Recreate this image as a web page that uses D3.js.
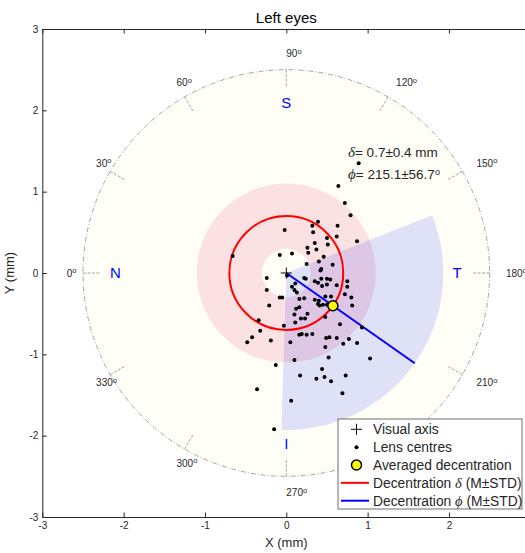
<!DOCTYPE html>
<html>
<head>
<meta charset="utf-8">
<script src="https://d3js.org/d3.v7.min.js"></script>
<style>
  body { margin: 0; background: #fff; }
  text { font-family: "Liberation Sans", Arial, sans-serif; fill: #262626; }
</style>
</head>
<body>
<div id="chart"></div>
<script>
// lens centres (mm)
var lensX = [0.89,0.64,0.72,0.79,0.39,0.32,0.63,-0.02,0.33,0.62,
  0.50,0.87,0.35,0.51,0.26,0.37,0.27,0.07,-0.08,-0.66,
  0.46,0.40,0.25,0.57,0.43,0.42,0.01,-0.24,0.22,0.24,
  0.43,0.50,0.54,0.35,0.75,0.11,0.39,0.07,0.44,0.50,
  0.62,0.75,-0.24,0.10,0.13,0.72,0.22,0.48,0.55,-0.08,
  -0.05,0.16,0.35,0.40,0.80,0.39,0.45,0.50,-0.21,0.16,
  0.12,0.41,0.81,0.10,0.26,0.18,0.23,0.48,-0.34,0.11,
  -0.03,0.66,0.93,-0.32,0.16,0.19,0.25,0.32,-0.42,0.49,
  0.53,0.62,0.77,-0.48,-0.19,0.05,0.70,0.87,0.48,1.03,
  0.52,0.10,-0.13,0.44,0.73,0.17,0.37,0.47,0.55,-0.36,
  0.69,0.06,-0.15];
var lensY = [1.35,1.07,0.86,0.71,0.63,0.58,0.58,0.53,0.50,0.45,
  0.43,0.39,0.37,0.35,0.31,0.29,0.25,0.24,0.22,0.21,
  0.20,0.14,0.11,0.10,0.05,0.03,-0.03,-0.06,-0.06,-0.07,
  -0.07,-0.07,-0.08,-0.10,-0.10,-0.13,-0.12,-0.17,-0.16,-0.14,
  -0.15,-0.17,-0.21,-0.21,-0.24,-0.26,-0.31,-0.29,-0.29,-0.30,
  -0.30,-0.32,-0.33,-0.34,-0.30,-0.38,-0.39,-0.39,-0.40,-0.42,
  -0.44,-0.40,-0.40,-0.51,-0.50,-0.56,-0.56,-0.54,-0.58,-0.61,
  -0.65,-0.63,-0.67,-0.71,-0.76,-0.75,-0.76,-0.75,-0.79,-0.80,
  -0.79,-0.80,-0.81,-0.85,-0.83,-0.85,-0.87,-0.86,-0.91,-1.05,
  -1.04,-1.07,-1.13,-1.18,-1.26,-1.26,-1.30,-1.28,-1.33,-1.43,
  -1.48,-1.57,-1.92];

var deltaStats = [0.7, 0.4];    // mean, std (mm)
var phiStats = [215.1, 56.7];   // mean, std (deg)
var phiLength = 1.93;           // length of the phi line / sector (mm)
var fieldRadius = 2.5;          // outer dash-dot circle (mm)
var angleTicks = [0, 30, 60, 90, 120, 150, 180, 210, 240, 270, 300, 330];
var axisTicks = [-3, -2, -1, 0, 1, 2, 3];
var axisTickLabels = ["-3", "-2", "-1", "0", "1", "2", "3"];
var sideLabels = ["N", "S", "T", "I"];
var sideAngles = [0, 90, 180, 270];

var width = 525, height = 553;
var plotLeft = 42.3, plotTop = 29, plotSize = 488;

var svg = d3.select("#chart").append("svg")
  .attr("width", width)
  .attr("height", height);

var x = d3.scaleLinear().domain([-3, 3]).range([plotLeft, plotLeft + plotSize]);
var y = d3.scaleLinear().domain([-3, 3]).range([plotTop + plotSize, plotTop]);
var k = x(1) - x(0); // px per mm

// polar helpers: angle 0 at nasal (left), going clockwise over the top
function px(r, deg) { return x(-r * Math.cos(deg * Math.PI / 180)); }
function py(r, deg) { return y(r * Math.sin(deg * Math.PI / 180)); }
function arcAngle(deg) { return (deg - 90) * Math.PI / 180; }

var cx = x(0), cy = y(0);
var g = svg.append("g");

// field background
g.append("circle")
  .attr("cx", cx).attr("cy", cy).attr("r", fieldRadius * k)
  .attr("fill", "rgb(254,254,246)");

// delta M±STD ring
g.append("path")
  .attr("transform", "translate(" + cx + "," + cy + ")")
  .attr("d", d3.arc()
    .innerRadius((deltaStats[0] - deltaStats[1]) * k)
    .outerRadius((deltaStats[0] + deltaStats[1]) * k)
    .startAngle(0).endAngle(2 * Math.PI)())
  .attr("fill", "rgb(240,20,80)")
  .attr("fill-opacity", 0.12);

// phi M±STD sector
g.append("path")
  .attr("transform", "translate(" + cx + "," + cy + ")")
  .attr("d", d3.arc()
    .innerRadius(0)
    .outerRadius(phiLength * k)
    .startAngle(arcAngle(phiStats[0] - phiStats[1]))
    .endAngle(arcAngle(phiStats[0] + phiStats[1]))())
  .attr("fill", "rgb(0,20,255)")
  .attr("fill-opacity", 0.12);

// outer circle and angle ticks
g.append("circle")
  .attr("cx", cx).attr("cy", cy).attr("r", fieldRadius * k)
  .attr("fill", "none")
  .attr("stroke", "#808080")
  .attr("stroke-width", 0.7)
  .attr("stroke-dasharray", "5,2,1,2");

g.selectAll(".atick").data(angleTicks).enter().append("line")
  .attr("x1", function(d) { return px(fieldRadius, d); })
  .attr("y1", function(d) { return py(fieldRadius, d); })
  .attr("x2", function(d) { return px(fieldRadius - 0.2, d); })
  .attr("y2", function(d) { return py(fieldRadius - 0.2, d); })
  .attr("stroke", "#808080")
  .attr("stroke-width", 0.7)
  .attr("stroke-dasharray", "3,1.5");

var alab = g.selectAll(".alab").data(angleTicks).enter().append("text")
  .attr("x", function(d) { return px(fieldRadius + 0.2, d); })
  .attr("y", function(d) { return py(fieldRadius + 0.2, d); })
  .attr("dy", "0.35em")
  .style("font-size", "10px");
alab.append("tspan").text(function(d) { return d; });
alab.append("tspan").attr("dy", "-0.45em").style("font-size", "7.5px").text("o");

// N S T I
g.selectAll(".side").data(sideLabels).enter().append("text")
  .attr("x", function(d, i) { return px(2.1, sideAngles[i]); })
  .attr("y", function(d, i) { return py(2.1, sideAngles[i]); })
  .attr("dy", "0.36em")
  .attr("text-anchor", "middle")
  .style("font-size", "15px")
  .style("fill", "#0000ff")
  .text(function(d) { return d; });

// mean delta circle
g.append("circle")
  .attr("cx", cx).attr("cy", cy).attr("r", deltaStats[0] * k)
  .attr("fill", "none").attr("stroke", "#ff0000").attr("stroke-width", 2);

// mean phi line
g.append("line")
  .attr("x1", cx).attr("y1", cy)
  .attr("x2", px(phiLength, phiStats[0]))
  .attr("y2", py(phiLength, phiStats[0]))
  .attr("stroke", "#0000ff").attr("stroke-width", 2);

// lens centres
g.selectAll(".lens").data(lensX).enter().append("circle")
  .attr("cx", function(d) { return x(d); })
  .attr("cy", function(d, i) { return y(lensY[i]); })
  .attr("r", 2)
  .attr("fill", "#000");

// visual axis
g.append("path")
  .attr("d", "M" + (cx - 5.5) + "," + cy + "H" + (cx + 5.5) + "M" + cx + "," + (cy - 5.5) + "V" + (cy + 5.5))
  .attr("stroke", "#000").attr("stroke-width", 1);

// averaged decentration
g.append("circle")
  .attr("cx", px(deltaStats[0], phiStats[0]))
  .attr("cy", py(deltaStats[0], phiStats[0]))
  .attr("r", 5)
  .attr("fill", "#ffff00").attr("stroke", "#000").attr("stroke-width", 1.5);

// stats text
var t1 = g.append("text").attr("x", 348).attr("y", 157).style("font-size", "13.5px");
t1.append("tspan").style("font-family", "Liberation Serif, serif").style("font-style", "italic").style("font-size", "15px").text("δ");
t1.append("tspan").text("= " + deltaStats[0] + "±" + deltaStats[1] + " mm");
var t2 = g.append("text").attr("x", 348).attr("y", 179).style("font-size", "13.5px");
t2.append("tspan").style("font-family", "Liberation Serif, serif").style("font-style", "italic").style("font-size", "15px").text("ϕ");
t2.append("tspan").text("= " + phiStats[0] + "±" + phiStats[1]);
t2.append("tspan").attr("dy", "-0.45em").style("font-size", "9px").text("o");

// axes (MATLAB style, ticks inside); the last x label falls outside the window
svg.append("g").attr("transform", "translate(0," + (plotTop + plotSize) + ")")
  .call(d3.axisBottom(x).tickValues(axisTicks).tickSizeInner(-4.5).tickSizeOuter(0).tickPadding(5)
    .tickFormat(function(d, i) { return d < 3 ? axisTickLabels[i] : ""; }));
svg.append("g").attr("transform", "translate(0," + plotTop + ")")
  .call(d3.axisTop(x).tickValues(axisTicks).tickSizeInner(-4.5).tickSizeOuter(0).tickFormat(""));
svg.append("g").attr("transform", "translate(" + plotLeft + ",0)")
  .call(d3.axisLeft(y).tickValues(axisTicks).tickSizeInner(-4.5).tickSizeOuter(0).tickPadding(4)
    .tickFormat(function(d, i) { return axisTickLabels[i]; }));
svg.append("g").attr("transform", "translate(" + (plotLeft + plotSize) + ",0)")
  .call(d3.axisRight(y).tickValues(axisTicks).tickSizeInner(-4.5).tickSizeOuter(0).tickFormat(""));
svg.selectAll(".domain, .tick line").attr("stroke", "#262626");
svg.selectAll(".tick text").style("font-size", "10px").attr("fill", "#262626")
  .style("font-family", "Liberation Sans, Arial, sans-serif");

// title and axis labels
svg.append("text").attr("x", cx).attr("y", 23).attr("text-anchor", "middle")
  .style("font-size", "15px").style("fill", "#000").text("Left eyes");
svg.append("text").attr("x", cx).attr("y", 547).attr("text-anchor", "middle")
  .style("font-size", "13px").text("X (mm)");
svg.append("text").attr("transform", "translate(14," + cy + ") rotate(-90)")
  .attr("text-anchor", "middle").style("font-size", "13px").text("Y (mm)");

// legend
var legendItems = ["Visual axis", "Lens centres", "Averaged decentration", "Decentration δ (M±STD)", "Decentration ϕ (M±STD)"];
var lg = svg.append("g").attr("transform", "translate(338,419)");
lg.append("rect").attr("width", 184).attr("height", 90)
  .attr("fill", "#fff").attr("stroke", "#6e6e6e").attr("stroke-width", 1);
var rows = lg.selectAll(".row").data(legendItems).enter().append("g")
  .attr("transform", function(d, i) { return "translate(0," + (10.3 + i * 17.85) + ")"; });
rows.each(function(d, i) {
  var r = d3.select(this);
  if (i === 0) {
    r.append("path").attr("d", "M13,0H24M18.5,-5.5V5.5").attr("stroke", "#000").attr("stroke-width", 1);
  } else if (i === 1) {
    r.append("circle").attr("cx", 18.5).attr("r", 2).attr("fill", "#000");
  } else if (i === 2) {
    r.append("circle").attr("cx", 18.5).attr("r", 5).attr("fill", "#ffff00").attr("stroke", "#000").attr("stroke-width", 1.5);
  } else {
    r.append("line").attr("x1", 3).attr("x2", 31).attr("stroke", i === 3 ? "#ff0000" : "#0000ff").attr("stroke-width", 2);
  }
  var t = r.append("text").attr("x", 35).attr("dy", "0.36em").style("font-size", "13.8px");
  if (i < 3) {
    t.text(d);
  } else {
    t.append("tspan").text("Decentration ");
    t.append("tspan").style("font-family", "Liberation Serif, serif").style("font-style", "italic").style("font-size", "14.5px").text(i === 3 ? "δ" : "ϕ");
    t.append("tspan").text(" (M±STD)");
  }
});
</script>
</body>
</html>
